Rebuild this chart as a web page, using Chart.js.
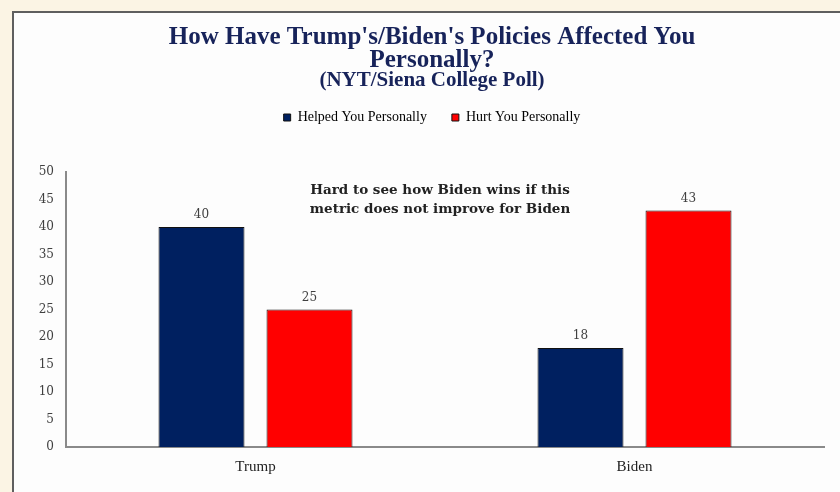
<!DOCTYPE html>
<html>
<head>
<meta charset="utf-8">
<script src="https://cdn.jsdelivr.net/npm/chart.js@4"></script>
<style>
  body { margin: 0; background: #fbf4e4; }
  canvas { display: block; }
</style>
</head>
<body>
<canvas id="myChart" width="840" height="492"></canvas>
<script>
// Chart data
const categories = ['Trump', 'Biden'];
const helpedValues = [40, 18];
const hurtValues = [25, 43];
const seriesNames = ['Helped You Personally', 'Hurt You Personally'];
const titleLines = ["How Have Trump's/Biden's Policies Affected You", 'Personally?'];
const subtitleText = '(NYT/Siena College Poll)';
const noteLines = ['Hard to see how Biden wins if this', 'metric does not improve for Biden'];

const navy = '#002060';
const red = '#ff0000';
const serif = "'Liberation Serif', 'Times New Roman', serif";
const georgia = "'DejaVu Serif', Georgia, serif";

// Cream page with the white chart panel on top
const panelPlugin = {
  id: 'panel',
  beforeDraw(chart) {
    const ctx = chart.ctx;
    ctx.save();
    ctx.fillStyle = '#fbf4e4';
    ctx.fillRect(0, 0, chart.width, chart.height);
    ctx.fillStyle = '#fdfdfd';
    ctx.fillRect(14, 12, chart.width - 14, chart.height - 12);
    ctx.strokeStyle = '#5f5f5f';
    ctx.lineWidth = 2;
    ctx.beginPath();
    ctx.moveTo(13, chart.height);
    ctx.lineTo(13, 12);
    ctx.lineTo(chart.width, 12);
    ctx.stroke();
    ctx.restore();
  }
};

// Value labels above the bars and the note text
const labelPlugin = {
  id: 'labels',
  afterDatasetsDraw(chart) {
    const ctx = chart.ctx;
    ctx.save();
    ctx.fillStyle = '#404040';
    ctx.font = '12px ' + georgia;
    ctx.textAlign = 'center';
    ctx.textBaseline = 'middle';
    chart.data.datasets.forEach((ds, i) => {
      chart.getDatasetMeta(i).data.forEach((bar, j) => {
        ctx.fillText(ds.data[j], bar.x, bar.y - 12);
      });
    });

    const xs = chart.scales.x;
    const ys = chart.scales.y;
    const mid = (xs.getPixelForValue(0) + xs.getPixelForValue(1)) / 2 - 5;
    ctx.fillStyle = '#222';
    ctx.font = 'bold 13.5px ' + georgia;
    noteLines.forEach((line, k) => {
      ctx.fillText(line, mid, ys.getPixelForValue(46.7) + k * 19);
    });
    ctx.restore();
  }
};

const canvas = document.getElementById('myChart');
const ctx = canvas.getContext('2d');

new Chart(ctx, {
  type: 'bar',
  data: {
    labels: categories,
    datasets: [{
      label: seriesNames[0],
      data: helpedValues,
      backgroundColor: navy,
      borderColor: '#111',
      borderWidth: 1
    }, {
      label: seriesNames[1],
      data: hurtValues,
      backgroundColor: red,
      borderColor: '#111',
      borderWidth: 1
    }]
  },
  options: {
    responsive: false,
    animation: false,
    categoryPercentage: 0.57,
    barPercentage: 0.796,
    layout: {
      padding: { top: 12, left: 24, right: 0, bottom: 0 }
    },
    plugins: {
      title: {
        display: true,
        text: titleLines,
        color: '#17235a',
        font: { family: serif, size: 25, weight: 'bold', lineHeight: 0.92 },
        padding: { top: 14, bottom: 0 }
      },
      subtitle: {
        display: true,
        text: subtitleText,
        color: '#17235a',
        font: { family: serif, size: 21, weight: 'bold', lineHeight: 0.5 },
        padding: { top: 3, bottom: 0 }
      },
      legend: {
        display: true,
        labels: {
          boxWidth: 7,
          boxHeight: 7,
          padding: 25,
          color: '#333',
          font: { family: serif, size: 14 },
          generateLabels(chart) {
            return chart.data.datasets.map((ds, i) => ({
              text: ds.label,
              fillStyle: ds.backgroundColor,
              strokeStyle: '#111',
              lineWidth: 1,
              datasetIndex: i
            }));
          }
        }
      },
      tooltip: { enabled: false }
    },
    scales: {
      x: {
        grid: { display: false },
        border: { color: '#8a8a8a', width: 2 },
        ticks: {
          color: '#222',
          padding: 3,
          font: { family: serif, size: 15 }
        },
        afterFit(scale) { scale.height = 45; }
      },
      xTop: {
        type: 'category',
        position: 'top',
        grid: { display: false },
        border: { display: false },
        ticks: { display: false },
        afterFit(scale) { scale.height = 37.5; }
      },
      y: {
        min: 0,
        max: 50,
        grid: { display: false, drawTicks: false },
        border: { color: '#8a8a8a', width: 2 },
        ticks: {
          stepSize: 5,
          padding: 12,
          color: '#404040',
          font: { family: georgia, size: 12 }
        },
        afterFit(scale) { scale.width = 42; }
      },
      yRight: {
        type: 'linear',
        position: 'right',
        grid: { display: false },
        border: { display: false },
        ticks: { display: false },
        afterFit(scale) { scale.width = 16; }
      }
    }
  },
  plugins: [panelPlugin, labelPlugin]
});
</script>
</body>
</html>
